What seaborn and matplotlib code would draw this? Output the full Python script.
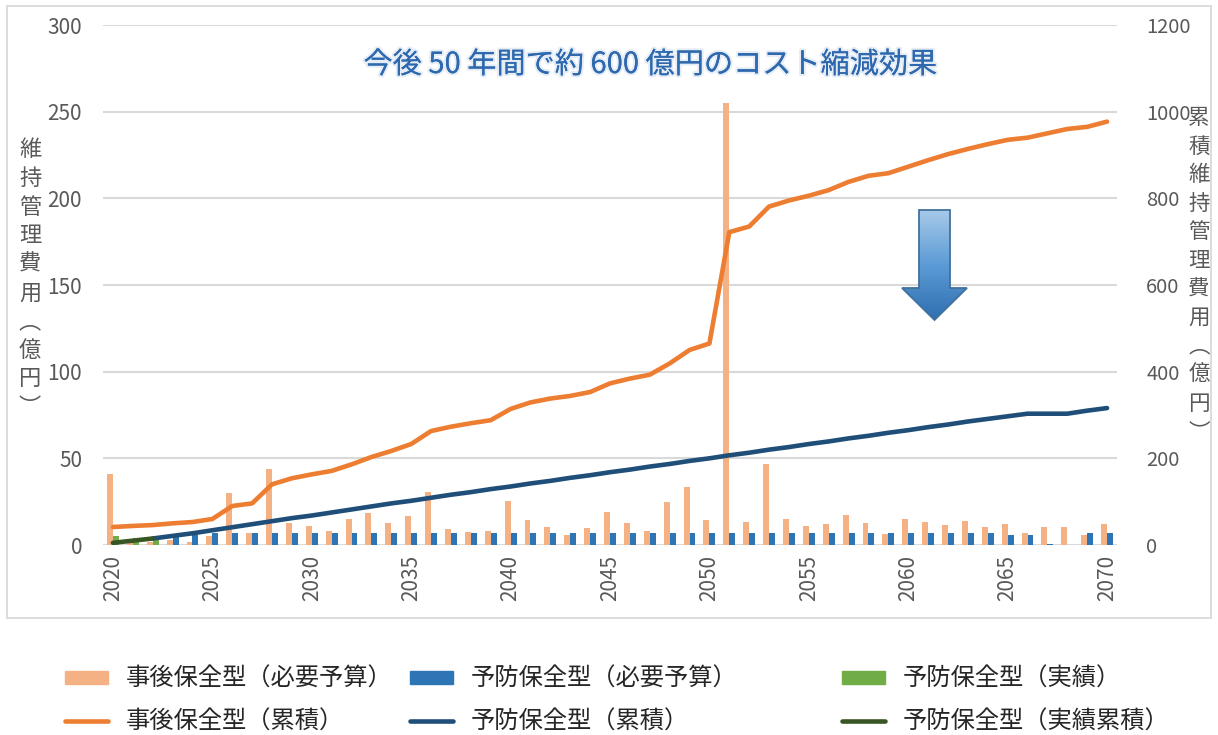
#!/usr/bin/env python3
import numpy as np
import matplotlib
matplotlib.use("Agg")
import matplotlib.pyplot as plt
import seaborn as sns
from matplotlib.patches import Patch, Rectangle, Polygon
from matplotlib.lines import Line2D
from matplotlib.colors import LinearSegmentedColormap
from matplotlib import patheffects

# === Data (億円) ===
years = list(range(2020, 2071))

# 事後保全型（必要予算）
corrective_budget = [
    41, 1, 1.5, 3, 2, 5, 30, 7, 44, 12.5,
    11, 8, 15, 18.7, 12.5, 16.7, 30.4, 9.2, 7.3, 8.1,
    25.4, 14.4, 10.2, 5.8, 9.6, 18.8, 12.5, 7.9, 24.8, 33.5,
    14.2, 255, 13.5, 46.5, 15, 11, 12.3, 17.1, 12.5, 6.3,
    15, 13.5, 11.5, 13.8, 10.2, 11.9, 6.7, 10.4, 10.2, 5.8,
    11.9,
]
# 予防保全型（必要予算）
preventive_budget = [
    0, 0, 0, 4.5, 6, 6.7, 6.7, 6.7, 6.7, 6.7,
    6.7, 6.7, 6.7, 6.7, 6.7, 6.7, 6.7, 6.7, 6.7, 6.7,
    6.7, 6.7, 6.7, 6.7, 6.7, 6.7, 6.7, 6.7, 6.7, 6.7,
    6.7, 6.7, 6.7, 6.7, 6.7, 6.7, 6.7, 6.7, 6.7, 6.7,
    6.7, 6.7, 6.7, 6.7, 6.7, 5.8, 5.8, 0.3, 0, 6.7,
    6.7,
]
# 予防保全型（実績）
actual_years = [2020, 2021, 2022]
actual_budget = [5, 4, 3]
actual_cum = [5, 10, 15]

# 事後保全型（累積）
corrective_cum = [
    41.5, 44, 46, 50, 53, 60, 90, 96, 140, 154,
    163, 171, 186, 203, 217, 233, 263, 273, 281, 288,
    314, 329, 338, 344, 353, 373, 384, 393, 419, 450,
    465, 722, 735, 781, 795, 806, 819, 838, 852, 858,
    873, 888, 902, 914, 925, 935, 940, 950, 960, 965,
    977,
]
# 予防保全型（累積） 2022-
preventive_years = list(range(2022, 2071))
preventive_cum = [
    15, 21, 27, 34, 41, 48, 55, 62, 68, 75,
    82, 89, 96, 102, 109, 116, 122, 129, 135, 142,
    148, 155, 161, 168, 174, 181, 187, 194, 200, 207,
    213, 220, 226, 233, 239, 246, 252, 259, 265, 272,
    278, 285, 291, 297, 303, 303, 303, 310, 316,
]

C_BAR_CORR = "#F4B183"
C_BAR_PREV = "#2E75B6"
C_BAR_ACT = "#70AD47"
C_LINE_CORR = "#ED7D31"
C_LINE_PREV = "#1F4E79"
C_LINE_ACT = "#375623"
GRID = "#D9D9D9"
TXT = "#595959"

W, H = 1218, 735


def main():
    sns.set_theme(style="white")
    plt.rcParams["font.family"] = ["Noto Sans CJK JP", "DejaVu Sans"]

    fig = plt.figure(figsize=(W / 100, H / 100), dpi=100)
    ax = fig.add_axes([103 / W, 1 - 545 / H, (1117 - 103) / W, (545 - 25) / H])
    ax2 = ax.twinx()

    yrs = np.array(years, dtype=float)
    bw = 0.3
    # --- bars (left axis) ---
    sns.barplot(x=yrs - bw / 2, y=corrective_budget, native_scale=True, width=bw,
                color=C_BAR_CORR, saturation=1, linewidth=0, errorbar=None, ax=ax)
    sns.barplot(x=yrs + bw / 2, y=preventive_budget, native_scale=True, width=bw,
                color=C_BAR_PREV, saturation=1, linewidth=0, errorbar=None, ax=ax)
    sns.barplot(x=np.array(actual_years, dtype=float) + bw / 2, y=actual_budget,
                native_scale=True, width=bw,
                color=C_BAR_ACT, saturation=1, linewidth=0, errorbar=None, ax=ax)

    # --- cumulative lines (right axis) ---
    lw = 3.3
    sns.lineplot(x=years, y=corrective_cum, color=C_LINE_CORR, linewidth=lw,
                 solid_capstyle="round", ax=ax2)
    sns.lineplot(x=preventive_years, y=preventive_cum, color=C_LINE_PREV, linewidth=lw,
                 solid_capstyle="round", ax=ax2)
    sns.lineplot(x=actual_years, y=actual_cum, color=C_LINE_ACT, linewidth=lw,
                 solid_capstyle="round", ax=ax2)

    # --- axes styling ---
    for a in (ax, ax2):
        a.set_xlim(2019.5, 2070.5)
        for s in a.spines.values():
            s.set_visible(False)
        a.set_xlabel("")
        a.set_ylabel("")
    ax.set_ylim(0, 300)
    ax2.set_ylim(0, 1200)
    ax.set_yticks(range(0, 301, 50))
    ax2.set_yticks(range(0, 1201, 200))
    ax.yaxis.grid(True, color=GRID, linewidth=1.5)
    ax.set_axisbelow(True)
    ax2.grid(False)

    ax.set_xticks(years[::5])
    ax.set_xticklabels([str(y) for y in years[::5]], rotation=90)
    ax.tick_params(axis="x", length=0, pad=7, labelsize=15, labelcolor=TXT)
    ax.tick_params(axis="y", length=0, pad=15, labelsize=15, labelcolor=TXT)
    ax2.tick_params(axis="y", length=0, pad=21, labelsize=14.5, labelcolor=TXT)

    # --- stacked vertical axis titles ---
    left_lbl = "維持管理費用︵億円︶"
    for i, ch in enumerate(left_lbl):
        fig.text(30 / W, 1 - (150 + i * 28.6) / H, ch, ha="center", va="center",
                 fontsize=16, color=TXT)
    right_lbl = "累積維持管理費用︵億円︶"
    for i, ch in enumerate(right_lbl):
        fig.text(1199 / W, 1 - (118 + i * 28.6) / H, ch, ha="center", va="center",
                 fontsize=15.5, color=TXT)

    # --- title inside plot ---
    fig.text(650 / W, 1 - 65 / H, "今後 50 年間で約 600 億円のコスト縮減効果",
             ha="center", va="center", fontsize=21, color="#2E68AE",
             path_effects=[patheffects.withStroke(linewidth=3, foreground="#E4ECF6"),
                           patheffects.Normal()])

    # --- block arrow with gradient ---
    aax = fig.add_axes([900 / W, 1 - 324 / H, 70 / W, 118 / H])
    aax.set_xlim(900, 970)
    aax.set_ylim(324, 206)
    aax.axis("off")
    pts = [(919, 210), (950, 210), (950, 288), (967, 288), (934.5, 320),
           (902, 288), (919, 288)]
    poly = Polygon(pts, closed=True, facecolor="none", edgecolor="#41719C", lw=1.3)
    aax.add_patch(poly)
    cmap = LinearSegmentedColormap.from_list("arr", ["#A9CBEA", "#5B9BD5", "#2E6DAF"])
    grad = np.linspace(0, 1, 200).reshape(-1, 1)
    im = aax.imshow(grad, cmap=cmap, extent=[900, 970, 322, 208], origin="upper",
                    aspect="auto", zorder=0)
    im.set_clip_path(poly)

    # --- chart frame ---
    fig.patches.append(Rectangle((7 / W, 1 - 618 / H), 1204 / W, 612 / H,
                                 transform=fig.transFigure, fill=False,
                                 edgecolor=GRID, linewidth=1.3))

    # --- legend: three columns ---
    cols = [
        (65, [Patch(color=C_BAR_CORR), Line2D([], [], color=C_LINE_CORR, lw=lw, solid_capstyle="round")],
         ["事後保全型（必要予算）", "事後保全型（累積）"]),
        (410, [Patch(color=C_BAR_PREV), Line2D([], [], color=C_LINE_PREV, lw=lw, solid_capstyle="round")],
         ["予防保全型（必要予算）", "予防保全型（累積）"]),
        (842, [Patch(color=C_BAR_ACT), Line2D([], [], color=C_LINE_ACT, lw=lw, solid_capstyle="round")],
         ["予防保全型（実績）", "予防保全型（実績累積）"]),
    ]
    for x0, handles, labels in cols:
        fig.legend(handles, labels, loc="upper left",
                   bbox_to_anchor=(x0 / W, 1 - 666 / H), frameon=False,
                   fontsize=17.5, handlelength=1.75, handleheight=0.45,
                   handletextpad=0.75, labelspacing=0.68, borderpad=0,
                   borderaxespad=0, labelcolor="#262626")

    fig.savefig("out.png", dpi=100)
    plt.close(fig)


if __name__ == "__main__":
    main()
